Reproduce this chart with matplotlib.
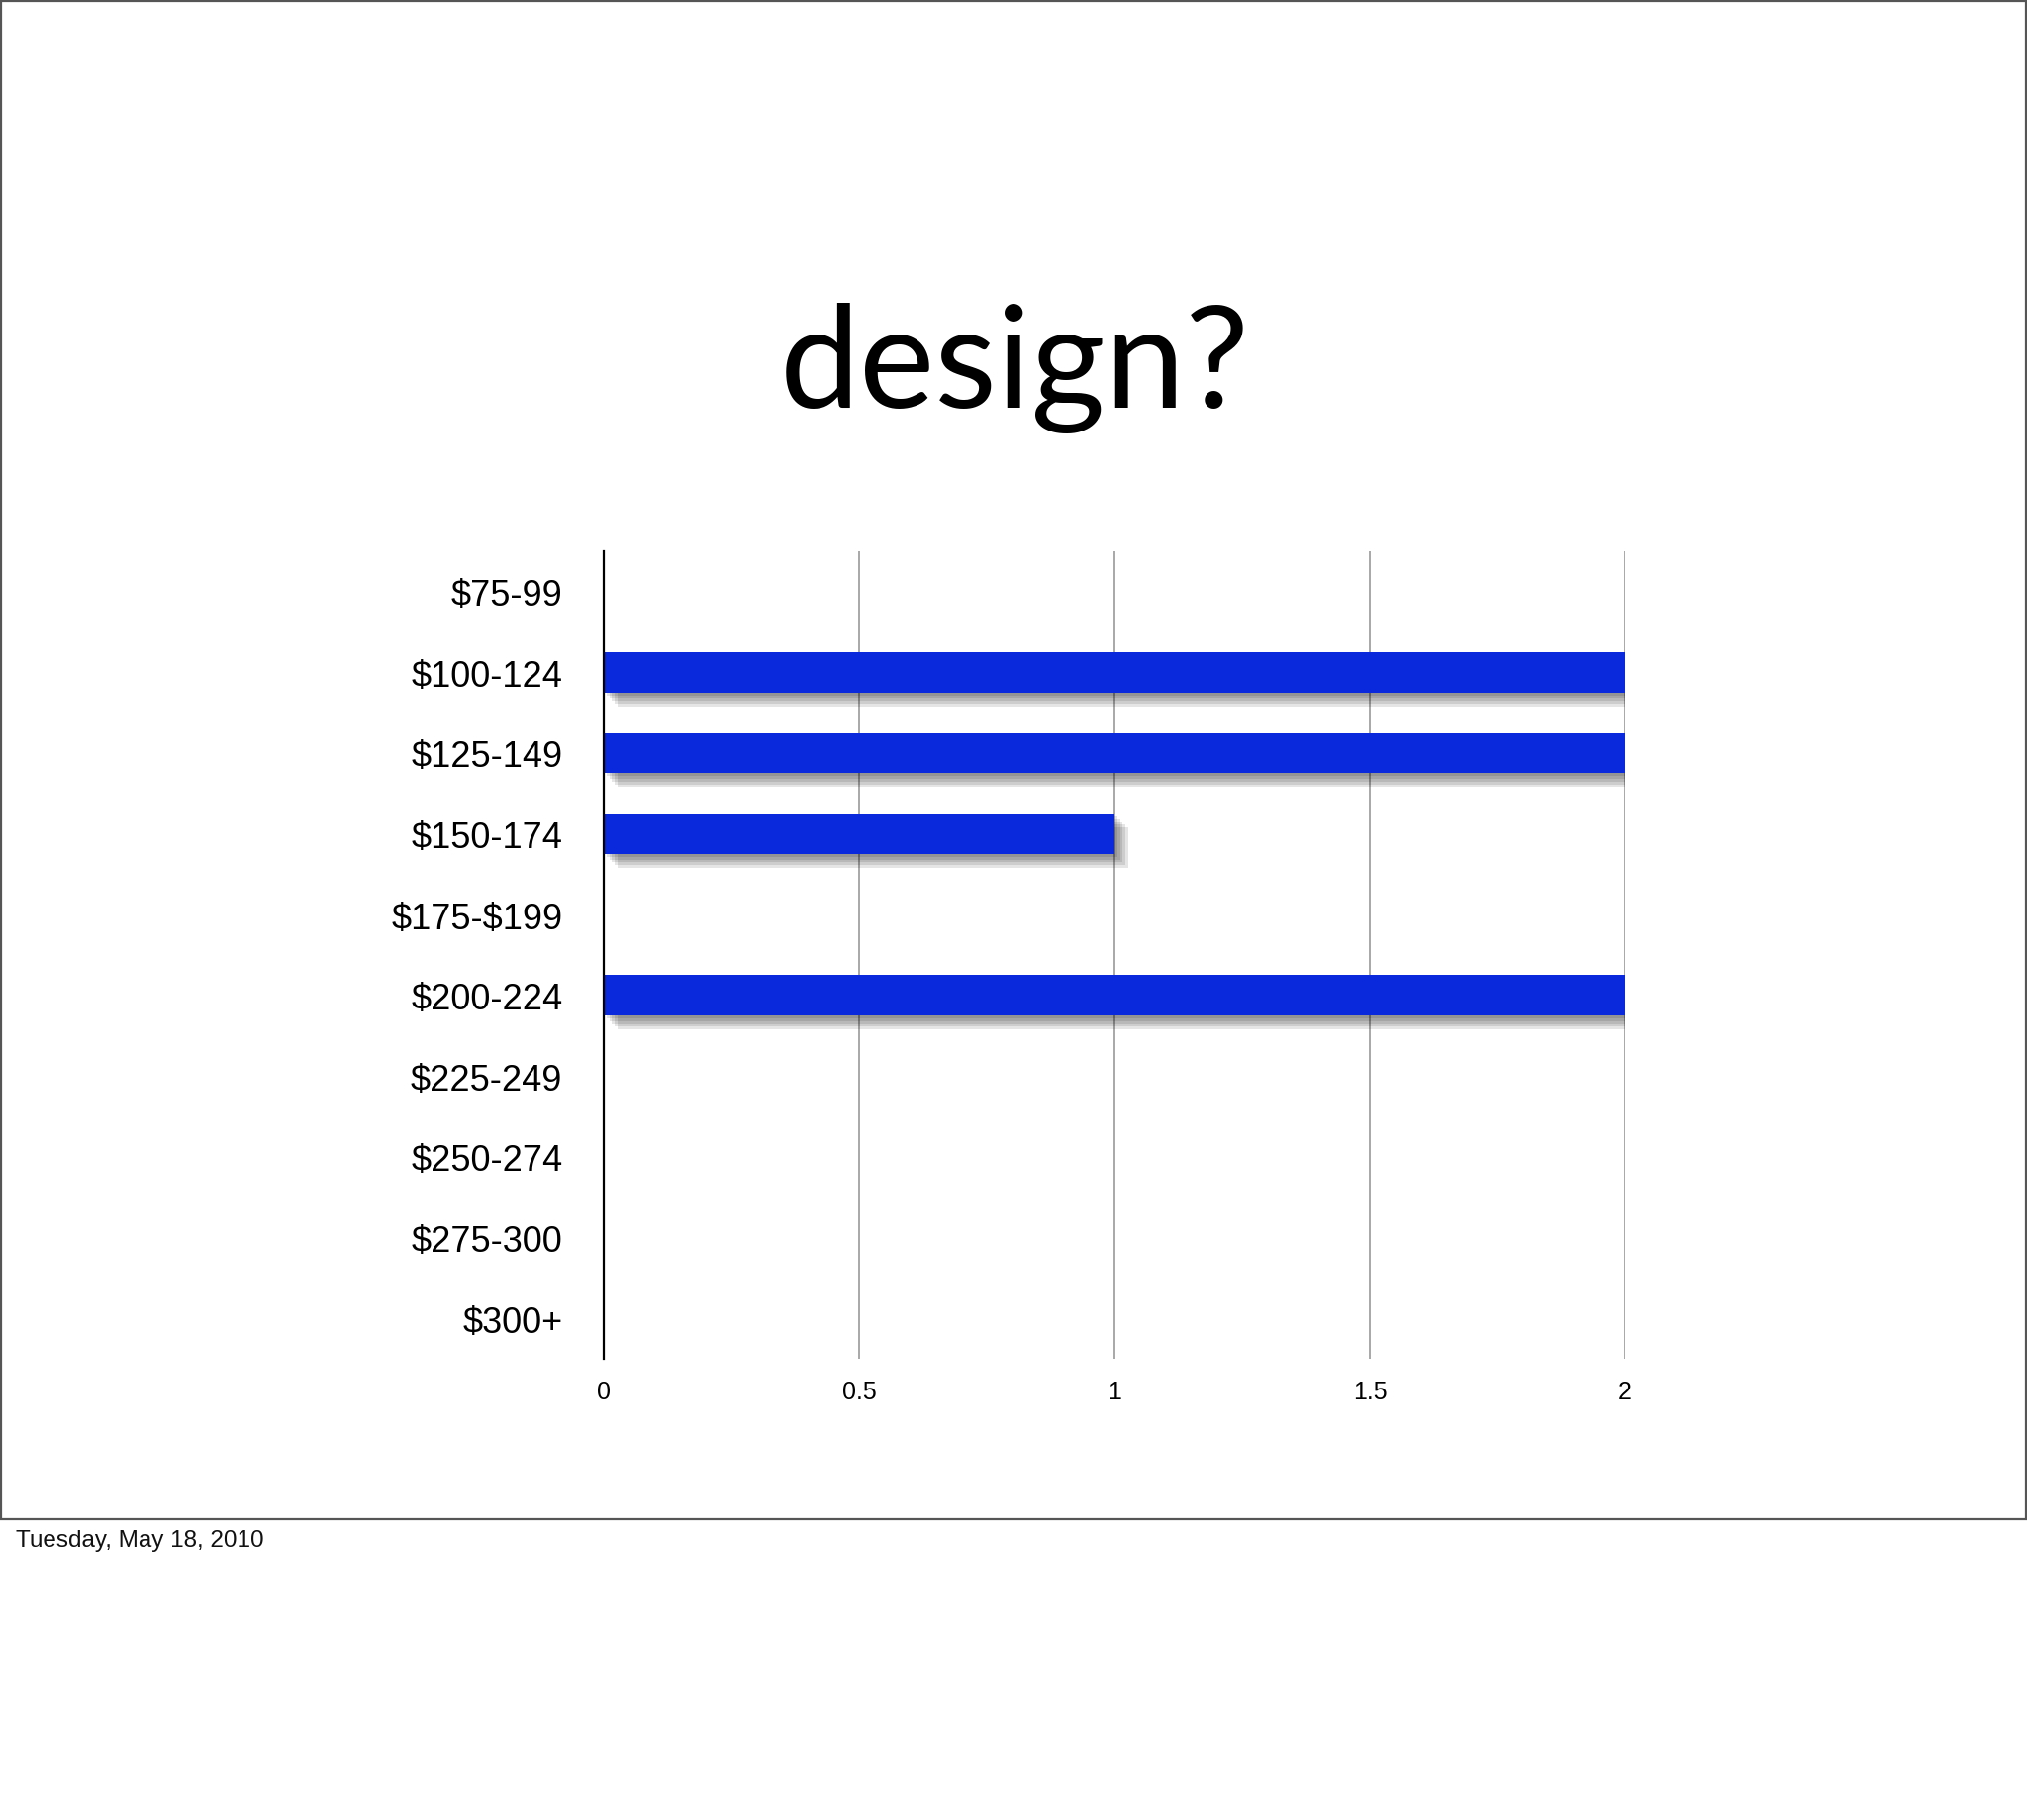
import matplotlib
matplotlib.use("Agg")
import matplotlib.pyplot as plt
import matplotlib.patheffects as pe
from matplotlib.patches import Rectangle

plt.rcParams["text.parse_math"] = False

categories = ["$75-99", "$100-124", "$125-149", "$150-174", "$175-$199",
              "$200-224", "$225-249", "$250-274", "$275-300", "$300+"]
values = [0, 2, 2, 1, 0, 2, 0, 0, 0, 0]
xticks = [0, 0.5, 1, 1.5, 2]
xticklabels = ["0", "0.5", "1", "1.5", "2"]
title = "design?"
footer = "Tuesday, May 18, 2010"

W, H = 2048, 1840
fig = plt.figure(figsize=(W / 100, H / 100), dpi=100)
fig.patch.set_facecolor("white")

# slide border
fig.patches.append(Rectangle((0.0005, 1 - 1536 / H), 0.999, 1536 / H - 0.001,
                             transform=fig.transFigure, fill=False,
                             edgecolor="#555555", linewidth=1.6))

fig.text(1025 / W, 1 - 412 / H, title, ha="center", va="baseline",
         fontsize=104, family=["Lato", "DejaVu Sans"], color="black")
fig.text(16 / W, 1 - 1563 / H, footer, ha="left", va="baseline",
         fontsize=17.5, family=["Liberation Sans", "DejaVu Sans"], color="#111111")

ax = fig.add_axes([610 / W, 1 - 1374 / H, (1642 - 610) / W, (1374 - 558) / H])
ypos = list(range(len(categories)))
shadow = [pe.SimplePatchShadow(offset=(o, -o), shadow_rgbFace="black", alpha=0.1)
          for o in (2, 4, 6, 8, 10)]
ax.barh(ypos, values, height=0.5, color="#0A28DC", zorder=3,
        path_effects=shadow + [pe.Normal()])
ax.set_ylim(len(categories) - 0.5, -0.5)
ax.set_xlim(0, 2)
ax.set_yticks(ypos)
ax.set_yticklabels(categories, fontsize=26, family=["Liberation Sans", "DejaVu Sans"])
ax.set_xticks(xticks)
ax.set_xticklabels(xticklabels, fontsize=18, family=["Liberation Sans", "DejaVu Sans"])
ax.tick_params(axis="y", length=0, pad=30)
ax.tick_params(axis="x", length=0, pad=15)
for s in ("top", "right", "bottom"):
    ax.spines[s].set_visible(False)
ax.spines["left"].set_linewidth(1.6)
ax.spines["left"].set_color("black")
ax.spines["left"].set_zorder(4)
ax.xaxis.grid(True, color="#9a9a9a", linewidth=1.2, zorder=0)
ax.set_axisbelow(True)

fig.savefig("out.png", dpi=100)
